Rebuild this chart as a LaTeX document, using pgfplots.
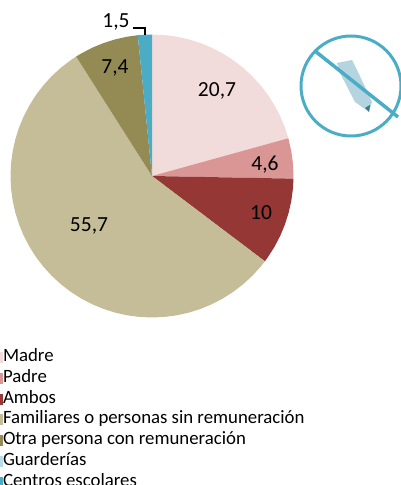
\documentclass[border=0pt]{standalone}
\usepackage{pgfplots}
\pgfplotsset{compat=1.18}
\usepackage{fontspec}
\setmainfont{Carlito}
\definecolor{cMadre}{HTML}{F2DCDB}
\definecolor{cPadre}{HTML}{D99694}
\definecolor{cAmbos}{HTML}{953735}
\definecolor{cFam}{HTML}{C4BD97}
\definecolor{cOtra}{HTML}{948A54}
\definecolor{cGuard}{HTML}{B7DDE8}
\definecolor{cCentros}{HTML}{4BACC6}
\definecolor{cPencil}{HTML}{B4D5DF}
\begin{document}
\begin{tikzpicture}
\path[use as bounding box,clip] (0,0) rectangle (401pt,485pt);
\begin{axis}[
  at={(0,0)},anchor=south west,
  width=401pt,height=485pt,scale only axis,
  xmin=-152,xmax=249,ymin=-309,ymax=176,
  hide axis,clip=false,
  legend cell align=left,
  legend style={at={(axis cs:-152,-171.5)},anchor=north west,draw=none,fill=none,
    inner sep=0pt,outer sep=0pt,font=\fontsize{18.8}{18.8}\selectfont,
    nodes={inner sep=0pt,text height=11pt,text depth=3pt,inner ysep=3.35pt},
    /tikz/every even column/.append style={column sep=2pt}},
  legend image code/.code={\fill[#1,draw=none] (0pt,-5.5pt) rectangle (3pt,5.5pt);},
]
\addplot[data cs=polar,fill=cMadre,draw=none] coordinates {(0,0)(90,141.5)(85,141.5)(80,141.5)(75,141.5)(70,141.5)(65,141.5)(60,141.5)(55,141.5)(50,141.5)(45,141.5)(40,141.5)(35,141.5)(30,141.5)(25,141.5)(20,141.5)(15.48,141.5)};
\addlegendentry{Madre}
\addplot[data cs=polar,fill=cPadre,draw=none] coordinates {(0,0)(15.48,141.5)(10,141.5)(5,141.5)(0,141.5)(-1.08,141.5)};
\addlegendentry{Padre}
\addplot[data cs=polar,fill=cAmbos,draw=none] coordinates {(0,0)(-1.08,141.5)(-5,141.5)(-10,141.5)(-15,141.5)(-20,141.5)(-25,141.5)(-30,141.5)(-35,141.5)(-37.08,141.5)};
\addlegendentry{Ambos}
\addplot[data cs=polar,fill=cFam,draw=none] coordinates {(0,0)(-37.08,141.5)(-40,141.5)(-45,141.5)(-50,141.5)(-55,141.5)(-60,141.5)(-65,141.5)(-70,141.5)(-75,141.5)(-80,141.5)(-85,141.5)(-90,141.5)(-95,141.5)(-100,141.5)(-105,141.5)(-110,141.5)(-115,141.5)(-120,141.5)(-125,141.5)(-130,141.5)(-135,141.5)(-140,141.5)(-145,141.5)(-150,141.5)(-155,141.5)(-160,141.5)(-165,141.5)(-170,141.5)(-175,141.5)(-180,141.5)(-185,141.5)(-190,141.5)(-195,141.5)(-200,141.5)(-205,141.5)(-210,141.5)(-215,141.5)(-220,141.5)(-225,141.5)(-230,141.5)(-235,141.5)(-237.58,141.5)};
\addlegendentry{Familiares o personas sin remuneración}
\addplot[data cs=polar,fill=cOtra,draw=none] coordinates {(0,0)(122.42,141.5)(120,141.5)(115,141.5)(110,141.5)(105,141.5)(100,141.5)(95.78,141.5)};
\addlegendentry{Otra persona con remuneración}
\addplot[fill=cGuard,draw=none] coordinates {(0,0)};
\addlegendentry{Guarderías}
\addplot[data cs=polar,fill=cCentros,draw=none] coordinates {(0,0)(95.78,141.5)(95,141.5)(90,141.5)};
\addlegendentry{Centros escolares}
% leader line
\addplot[forget plot,black,line width=1.1pt] coordinates {(-19,148)(-7,148)(-7,141)};
% labels
\node[font=\fontsize{21.5}{21.5}\selectfont] at (axis cs:65,85) {20,7};
\node[font=\fontsize{21.5}{21.5}\selectfont] at (axis cs:113,11) {4,6};
\node[font=\fontsize{21.5}{21.5}\selectfont] at (axis cs:109,-37) {10};
\node[font=\fontsize{21.5}{21.5}\selectfont] at (axis cs:-63,-50) {55,7};
\node[font=\fontsize{21.5}{21.5}\selectfont] at (axis cs:-37,108) {7,4};
\node[font=\fontsize{21.5}{21.5}\selectfont] at (axis cs:-36,154) {1,5};
% icon (pixel offsets from pie centre)
\fill[cPencil] (axis cs:185,113) -- (axis cs:200,116) -- (axis cs:206,104) -- (axis cs:220,74) -- (axis cs:217,64) -- (axis cs:203,74) -- (axis cs:188,103) -- cycle;
\fill[cCentros!70!black] (axis cs:217,64) -- (axis cs:213,68) -- (axis cs:218,71) -- cycle;
\draw[cCentros,line width=3pt] (axis cs:199,90) circle [radius=50pt];
\draw[cCentros,line width=3.5pt] (axis cs:163,125) -- (axis cs:246,59);
\end{axis}
\end{tikzpicture}
\end{document}
